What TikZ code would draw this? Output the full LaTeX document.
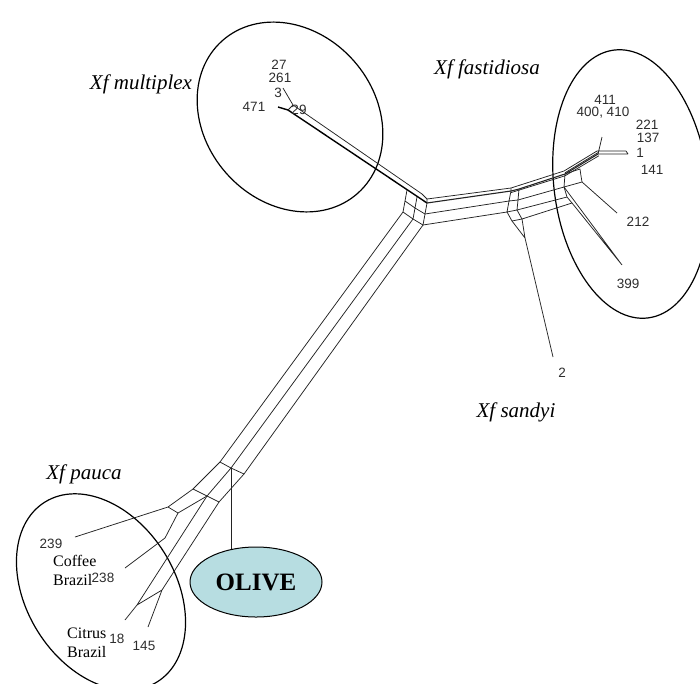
\documentclass[tikz,border=0pt]{standalone}
\usepackage{fontspec}
\setmainfont{Liberation Serif}
\newfontfamily\numfont{Liberation Sans}
\usetikzlibrary{shapes.geometric,calc}
\definecolor{olivefill}{RGB}{183,221,225}
\definecolor{netgray}{RGB}{35,35,35}
\definecolor{numgray}{RGB}{45,45,45}
\begin{document}
\begin{tikzpicture}[x=1pt,y=-1pt,
  net/.style={draw=netgray,line width=0.75pt,line join=round},
  netbold/.style={draw=black,line width=1.4pt,line join=round},
  grp/.style={draw=black,line width=1.2pt},
  num/.style={font=\numfont\fontsize{13.5}{14}\selectfont,text=numgray,inner sep=0pt},
  taxon/.style={font=\fontsize{21}{24}\selectfont\itshape,inner sep=0pt,anchor=base},
  place/.style={font=\fontsize{16}{19}\selectfont,inner sep=0pt,align=left,anchor=west}]
\useasboundingbox (0,0) rectangle (700,683);

% ---------- group ellipses ----------
\draw[grp,rotate around={41.5:(290,117)}] (290,117) ellipse [x radius=85,y radius=102];
\draw[grp,rotate around={7.3:(631,184)}] (631,184) ellipse [x radius=77,y radius=135];
\draw[grp,rotate around={32:(101,592)}] (101,592) ellipse [x radius=74.5,y radius=106];

% ---------- network vertices ----------
% multiplex
\coordinate (m471) at (278,107);
\coordinate (m261) at (283,88);
\coordinate (mj) at (288,110);
\coordinate (mk) at (293,105);
% hub 1
\coordinate (tk) at (422,194);
\coordinate (t1) at (407,190); \coordinate (t2) at (417,197); \coordinate (t3) at (427,203);
\coordinate (t3b) at (427,199);
\coordinate (m1) at (405,201); \coordinate (m2) at (415,208); \coordinate (m3) at (425,214);
\coordinate (b1) at (403,212); \coordinate (b2) at (413,219); \coordinate (b3) at (423,225);
% hub 2
\coordinate (l1b) at (511,188); \coordinate (l1) at (511,191);
\coordinate (l2) at (509,201); \coordinate (l3) at (507,212);
\coordinate (r1) at (519,189); \coordinate (r2) at (518,200); \coordinate (r3) at (517,210);
\coordinate (d1) at (512,221); \coordinate (d3) at (522,219);
\coordinate (s0) at (525,238); \coordinate (sleaf) at (553,357);
% hub 3
\coordinate (h3ab) at (564,171); \coordinate (h3a) at (565,174);
\coordinate (h3b) at (564,187); \coordinate (h3c) at (567,197); \coordinate (h3d) at (572,203);
\coordinate (q1) at (580,169); \coordinate (q2) at (581,176); \coordinate (q3) at (582,182);
\coordinate (leaf212) at (617,213); \coordinate (leaf399) at (622,265);
% fastidiosa tip
\coordinate (f1) at (598,154); \coordinate (f2) at (597,151);
\coordinate (fup) at (602,137); \coordinate (fr1) at (628,154); \coordinate (fr2) at (626,151);
% pauca
\coordinate (pa1) at (220,462); \coordinate (pb1) at (231,468); \coordinate (pc1) at (244,474);
\coordinate (pa2) at (193,489); \coordinate (pb2) at (207,496); \coordinate (pc2) at (219,502);
\coordinate (pa3) at (168,507); \coordinate (pb3) at (178,513);
\coordinate (leaf239) at (75,537);
\coordinate (p238) at (165,538); \coordinate (leaf238) at (125,568);
\coordinate (px1) at (137,605); \coordinate (leaf18) at (125,620);
\coordinate (px2) at (162,590); \coordinate (leaf145) at (148,627);
\coordinate (ostem) at (231,560);

% ---------- network edges ----------
% multiplex branch
\draw[netbold] (m471) -- (mj) -- (t3);
\draw[net] (m261) -- (mk) -- (tk) -- (t3b);
\draw[net] (mj) -- (mk);
% hub 1 grid
\draw[net] (t1) -- (m1) -- (b1) (t2) -- (m2) -- (b2) (t3b) -- (t3) -- (m3) -- (b3)
           (m1) -- (m2) -- (m3) (b1) -- (b2) -- (b3);
% long branch to pauca
\draw[net] (b1) -- (pa1) (b2) -- (pb1) (b3) -- (pc1);
% right bundle
\draw[net,line width=1.1pt] (t3) -- (l1) -- (r1) -- (h3a) -- (f1);
\draw[net] (t3b) -- (l1b) -- (h3ab) -- (f2);
\draw[net] ($(l1)+(0,1.6)$) -- ($(h3a)+(0,1.8)$) -- ($(f1)+(0.8,1.8)$);
\draw[net] ($(h3a)+(0,-1.2)$) -- ($(f1)+(0,-1.4)$);
\draw[net] (m3) -- (l2) (b3) -- (l3);
% hub 2
\draw[net] (l1b) -- (l1) -- (l2) -- (l3) (r1) -- (r2) -- (r3)
           (l2) -- (r2) (l3) -- (r3) (l3) -- (d1) (r3) -- (d3) (d1) -- (d3);
% sandyi
\draw[net] (d1) -- (s0) (d3) -- (s0) -- (sleaf);
% hub 2 -> hub 3
\draw[net] (r2) -- (h3b) (r3) -- (h3c) (d3) -- (h3d);
% hub 3
\draw[net] (h3a) -- (h3b) -- (h3c) -- (h3d) (h3a) -- (q1) -- (q2) -- (q3)
           (h3b) -- (q3);
\draw[net] (q3) -- (leaf212) (h3b) -- (leaf399) (h3d) -- (leaf399);
% fastidiosa tips
\draw[net] (f1) -- (fup) (f1) -- (fr1) (f2) -- (fr2) (fr2) -- (fr1);
% pauca fan
\draw[net] (ostem) -- (pb1);
\draw[net] (pa1) -- (pb1) -- (pc1) (pa2) -- (pb2) -- (pc2) (pa3) -- (pb3);
\draw[net] (pa1) -- (pa2) -- (pa3) -- (leaf239);
\draw[net] (pb1) -- (pb2) -- (pb3) -- (p238) -- (leaf238);
\draw[net] (pc1) -- (pc2);
\draw[net] (pb2) -- (px1) -- (leaf18) (pc2) -- (px2) -- (leaf145) (px1) -- (px2);

% ---------- OLIVE ----------
\node[ellipse,draw=black,line width=1pt,fill=olivefill,minimum width=132pt,minimum height=70pt,
      inner sep=0pt,font=\bfseries\fontsize{25}{25}\selectfont] (olive) at (256,582) {OLIVE};

% ---------- taxon labels ----------
\node[taxon] (lmult) at (141,89) {Xf multiplex};
\node[taxon] (lfast) at (487,74) {Xf fastidiosa};
\node[taxon] (lsand) at (516,417) {Xf sandyi};
\node[taxon] (lpauc) at (84,479) {Xf pauca};

% ---------- strain numbers ----------
\node[num] (n27) at (279,65) {27};
\node[num] (n261) at (280,78) {261};
\node[num] (n3) at (278,93) {3};
\node[num] (n471) at (254,107) {471};
\node[num] (n29) at (299,110) {29};
\node[num] (n411) at (605,100) {411};
\node[num] (n400) at (603,113) {400, 410};
\node[num] (n221) at (647,125) {221};
\node[num] (n137) at (648,138) {137};
\node[num] (n1) at (640,153) {1};
\node[num] (n141) at (652,170) {141};
\node[num] (n212) at (638,222) {212};
\node[num] (n399) at (628,284) {399};
\node[num] (n2) at (562,373) {2};
\node[num] (n239) at (51,544) {239};
\node[num] (n238) at (103,578) {238};
\node[num] (n18) at (117,639) {18};
\node[num] (n145) at (144,646) {145};

% ---------- places ----------
\node[place] (coffee) at (53,570) {Coffee\\Brazil};
\node[place] (citrus) at (67,643) {Citrus\\Brazil};
\end{tikzpicture}
\end{document}
